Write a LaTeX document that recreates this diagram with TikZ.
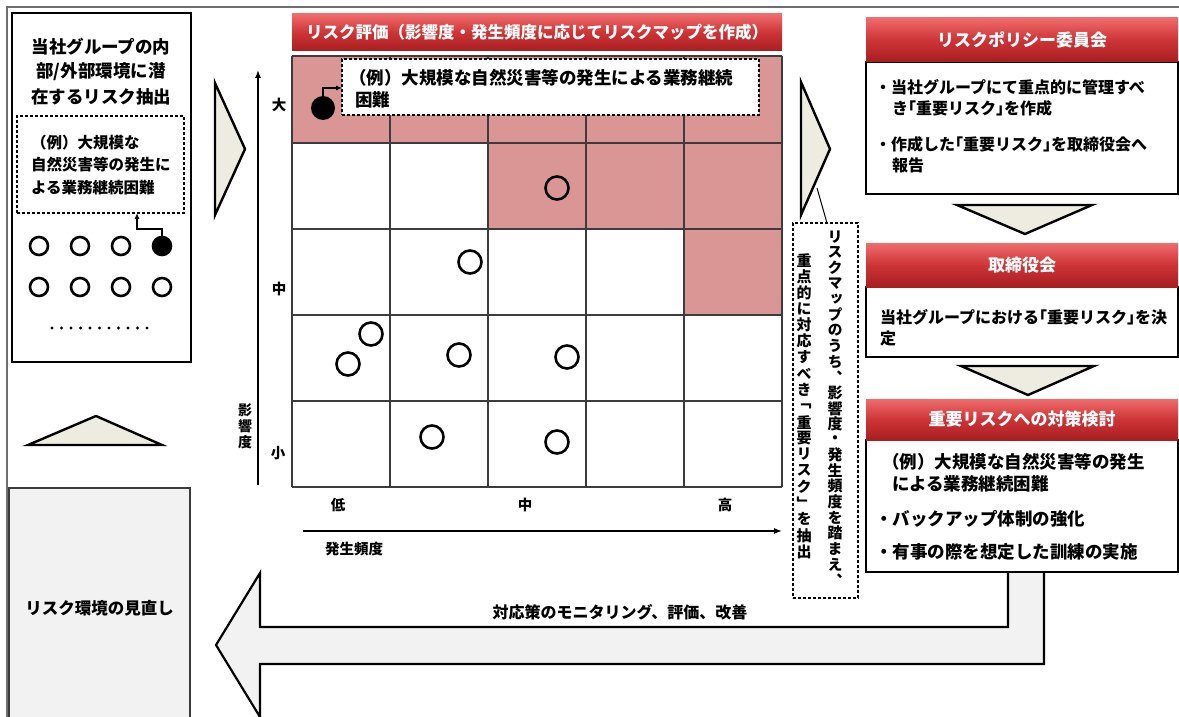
\documentclass[tikz,border=0pt]{standalone}
\usepackage{fontspec}
\setmainfont{Noto Sans CJK JP}
\newfontfamily\vfont[RawFeature=+vert]{Noto Sans CJK JP}
\newfontfamily\hfont[RawFeature=+halt]{Noto Sans CJK JP}
\usetikzlibrary{arrows.meta}
\definecolor{pinkcell}{RGB}{217,150,148}
\definecolor{beige}{RGB}{238,236,225}
\definecolor{grayfill}{RGB}{242,242,242}
\definecolor{hdrtop}{RGB}{240,108,108}
\definecolor{hdrmid}{RGB}{205,52,55}
\definecolor{hdrbot}{RGB}{168,30,32}
\definecolor{gridc}{RGB}{60,60,60}
\definecolor{framec}{RGB}{110,110,110}
\newcommand\fsz[1]{\fontsize{#1}{#1}\selectfont\bfseries}
\newcommand\hb[1]{{\hfont\bfseries #1}}
\makeatletter
\newcommand\tatetext[2]{\vbox{\offinterlineskip\@tfor\tate@c:=#2\do{\vbox to #1{\vss\hbox to 1em{\hss\tate@c\hss}\vss}}}}
\makeatother
\begin{document}
\begin{tikzpicture}[x=1pt,y=-1pt,
  every node/.style={inner sep=0pt,outer sep=0pt},
  boxk/.style={draw=black,line width=2.6pt,fill=white,anchor=north west},
  bodyk/.style={draw=black,line width=2pt,fill=white,anchor=north west},
  dashk/.style={draw=black,line width=1.2pt,dash pattern=on 3pt off 2pt,fill=white,anchor=north west},
  hdr/.style={anchor=north west,top color=hdrtop,bottom color=hdrbot,middle color=hdrmid,text=white,font=\fsz{17}},
  tri/.style={draw=black,fill=beige,line width=2.4pt,line join=miter},
  gridl/.style={draw=gridc,line width=1.6pt},
  rc/.style={circle,draw=black,line width=2.6pt,minimum size=23pt},
  sc/.style={circle,draw=black,line width=2.6pt,minimum size=18pt},
  lt/.style={anchor=west,font=\fsz{16}},
  lt3/.style={anchor=west,font=\fsz{17.5}},
  axl/.style={font=\fsz{14.5}},
  arr/.style={line width=1.3pt,-{Latex[length=8pt,width=6pt]}},
  sarr/.style={line width=1.1pt,-{Latex[length=6pt,width=5pt]}}
]
\useasboundingbox (0,0) rectangle (1179,717);
\fill[white] (0,0) rectangle (1179,717);
% outer frame
\draw[framec,line width=1.6pt] (7,717) -- (7,7) -- (1179,7);

% ===== left column =====
\node[boxk,minimum width=179pt,minimum height=349pt] (lbox) at (12,13) {};
\node[font=\fsz{17.5}] (lt1) at (101,47) {当社グループの内};
\node[font=\fsz{17.5}] (lt2) at (101,72) {部/外部環境に潜};
\node[font=\fsz{17.5}] (lt3) at (101,97) {在するリスク抽出};
\node[dashk,minimum width=167pt,minimum height=97pt] (ldash) at (17,116) {};
\node[anchor=west,font=\fsz{15.5}] (le1) at (31,143) {（例）大規模な};
\node[anchor=west,font=\fsz{15.5}] (le2) at (31,165) {自然災害等の発生に};
\node[anchor=west,font=\fsz{15.5}] (le3) at (31,188) {よる業務継続困難};
\node[sc] (lc1) at (39,246) {};
\node[sc] (lc2) at (80,246) {};
\node[sc] (lc3) at (121,246) {};
\node[sc,fill=black] (lc4) at (162,246) {};
\node[sc] (lc5) at (39,287) {};
\node[sc] (lc6) at (80,287) {};
\node[sc] (lc7) at (121,287) {};
\node[sc] (lc8) at (162,287) {};
\foreach \i in {0,...,10} \fill ({52+9.5*\i},328) circle (1.7pt);
\coordinate (lk1) at (162,229);
\coordinate (lk2) at (137,229);
\draw[sarr] (lc4.north) -- (lk1) -- (lk2) -- (lk2 |- ldash.south);

\draw[tri] (215,83) -- (215,215) -- (245,149) -- cycle;
\draw[tri] (28,445) -- (96,416) -- (162,445) -- cycle;

% ===== big return arrow =====
\draw[line width=2.2pt,fill=grayfill,line join=miter] (1008,572) -- (1008,627) -- (260,627) -- (260,573) -- (216,645) -- (260,717) -- (260,664) -- (1044,664) -- (1044,572);
\node[font=\fsz{16}] (mon) at (620,612) {対応策のモニタリング、評価、改善};

\node[draw=gridc,fill=grayfill,line width=1.5pt,minimum width=181pt,minimum height=240pt,anchor=north west,font=\fsz{16.5}] (rev) at (9,488) {リスク環境の見直し};

% ===== risk map =====
\node[hdr,minimum width=490pt,minimum height=37pt,font=\fsz{16.5}] (mh) at (292,14) {リスク評価（影響度・発生頻度に応じてリスクマップを作成）};
\foreach \c in {0,...,4} \fill[pinkcell] ({292+98*\c},56) rectangle ++(98,87);
\foreach \c in {2,3,4} \fill[pinkcell] ({292+98*\c},143) rectangle ++(98,86);
\fill[pinkcell] (684,229) rectangle ++(98,86);
\foreach \x in {292,390,488,586,684,782} \draw[gridl] (\x,56) -- (\x,487);
\foreach \y in {56,143,229,315,401,487} \draw[gridl] (292,\y) -- (782,\y);

\node[rc] (m1) at (557,188) {};
\node[rc] (m2) at (470,262) {};
\node[rc] (m3) at (371,334) {};
\node[rc] (m4) at (348,364) {};
\node[rc] (m5) at (459,355) {};
\node[rc] (m6) at (567,357) {};
\node[rc] (m7) at (432,437) {};
\node[rc] (m8) at (557,442) {};

\node[dashk,minimum width=417pt,minimum height=56pt] (ex) at (342,59) {};
\node[lt3] (ex1) at (349,78) {（例）大規模な自然災害等の発生による業務継続};
\node[lt3] (ex2) at (355,100) {困難};
\node[circle,fill=black,minimum size=24pt] (bc) at (323,108) {};
\coordinate (bk) at (323,88);
\draw[sarr] (bc.north) -- (bk) -- (bk -| ex.west);

\coordinate (ya) at (258,485);
\coordinate (yb) at (258,70);
\draw[arr] (ya) -- (yb);
\coordinate (xa) at (303,531);
\coordinate (xb) at (782,531);
\draw[arr] (xa) -- (xb);
\node[axl] (l1) at (279,105) {大};
\node[axl] (l2) at (279,289) {中};
\node[axl] (l3) at (278,453) {小};
\node[font=\vfont\fsz{14}] (ylab) at (245,426) {\tatetext{16pt}{影響度}};
\node[axl] (x1) at (338,505) {低};
\node[axl] (x2) at (525,505) {中};
\node[axl] (x3) at (725,505) {高};
\node[font=\fsz{14.5}] (xlab) at (354,549) {発生頻度};

% ===== vertical note =====
\draw[tri] (801,82) -- (801,215) -- (830,149) -- cycle;
\node[dashk,minimum width=65pt,minimum height=375pt] (vb) at (793,223) {};
\coordinate (cv1) at (817,188);
\coordinate (cv2) at (827,223);
\draw[line width=1pt] (cv1) -- (cv2);
\node[anchor=north,font=\vfont\fsz{15}] (vtr) at (835,229) {\tatetext{15.6pt}{リスクマップのうち、影響度・発生頻度を踏まえ、}};
\node[anchor=north,font=\vfont\fsz{15}] (vtl) at (804,252) {\tatetext{16.2pt}{重点的に対応すべき﹁重要リスク﹂を抽出}};

% ===== right column =====
\node[bodyk,minimum width=312pt,minimum height=132pt] (b1) at (866,62) {};
\node[hdr,minimum width=312pt,minimum height=44pt] (h1) at (866,18) {リスクポリシー委員会};
\node[lt] (b1a) at (875,87) {・当社グループにて重点的に管理すべ};
\node[lt] (b1b) at (892,108) {き\hb{「}重要リスク\hb{」}を作成};
\node[lt] (b1c) at (875,144) {・作成した\hb{「}重要リスク\hb{」}を取締役会へ};
\node[lt] (b1d) at (892,165) {報告};

\draw[tri] (957,205) -- (1092,205) -- (1025,234) -- cycle;

\node[bodyk,minimum width=312pt,minimum height=70pt] (b2) at (866,287) {};
\node[hdr,minimum width=312pt,minimum height=44pt] (h2) at (866,243) {取締役会};
\node[lt] (b2a) at (880,317) {当社グループにおける\hb{「}重要リスク\hb{」}を決};
\node[lt] (b2b) at (880,338) {定};

\draw[tri] (961,366) -- (1094,366) -- (1028,395) -- cycle;

\node[bodyk,minimum width=312pt,minimum height=132pt] (b3) at (866,440) {};
\node[hdr,minimum width=312pt,minimum height=41pt] (h3) at (866,399) {重要リスクへの対策検討};
\node[lt3] (b3a) at (882,462) {（例）大規模な自然災害等の発生};
\node[lt3] (b3b) at (892,484) {による業務継続困難};
\node[lt3] (b3c) at (875,519) {・バックアップ体制の強化};
\node[lt3] (b3d) at (875,552) {・有事の際を想定した訓練の実施};
\end{tikzpicture}
\end{document}
